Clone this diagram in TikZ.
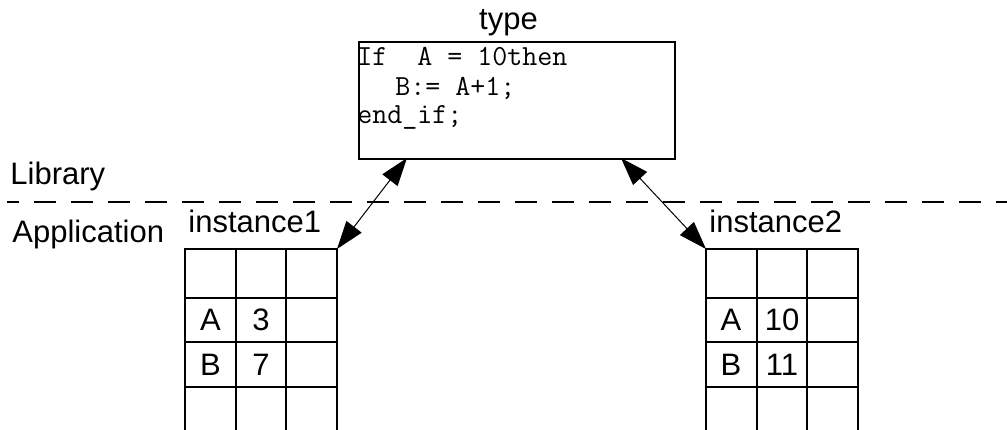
\documentclass[tikz,border=0pt]{standalone}
\usepackage{fontspec}
\setmainfont{Liberation Sans}
\usetikzlibrary{arrows.meta}

\begin{document}
\begin{tikzpicture}[x=0.5pt,y=-0.5pt,
    plaintext/.style={inner sep=0pt,font=\fontsize{15.5}{18}\selectfont},
    codeline/.style={inner sep=0pt,anchor=base west,font=\fontsize{14.57}{14.5}\ttfamily},
    gridline/.style={line width=0.85pt,line cap=rect},
    link/.style={line width=0.5pt,{Triangle[length=14pt,width=9.5pt]}-{Triangle[length=14pt,width=9.5pt]}}]
    \useasboundingbox (0,0) rectangle (1007,429);
    % library / application split
    \coordinate (split west) at (7,201.5);
    \coordinate (split east) at (1007,201.5);
    \draw[line width=1pt,dash pattern=on 11pt off 7.5pt,dash phase=5pt] (split west) -- (split east);
    \node[plaintext,anchor=base west] (lib) at (10,184) {Library};
    \node[plaintext,anchor=base west] (app) at (12,242) {Application};
    % type
    \node[draw,gridline,anchor=north west,inner sep=0pt,minimum width=158pt,minimum height=58.5pt] (typebox) at (358,41) {};
    \node[plaintext,anchor=base] (typename) at (508.5,29) {type};
    \node[codeline] (code1) at (357,65) {If~~A = 10then};
    \node[codeline] (code2) at (395,95) {B:= A+1;};
    \node[codeline] (code3) at (357,123) {end\_if;};
    % instances
    \foreach \gx/\gn in {185/1,706/2} {
      \foreach \cx in {0,50.67,101.33,152}
        \draw[gridline] (\gx+\cx,249) -- (\gx+\cx,432);
      \foreach \ry in {249,298,342,387}
        \draw[gridline] (\gx,\ry) -- (\gx+152,\ry);
      \node[plaintext,anchor=base west] (inst\gn) at (\gx+3,232) {instance\gn};
    }
    \node[plaintext] (a1) at (210.5,320) {A};
    \node[plaintext] (va1) at (261,320) {3};
    \node[plaintext] (b1) at (210.5,364.5) {B};
    \node[plaintext] (vb1) at (261,364.5) {7};
    \node[plaintext] (a2) at (731,320) {A};
    \node[plaintext] (va2) at (782,320) {10};
    \node[plaintext] (b2) at (731,364.5) {B};
    \node[plaintext] (vb2) at (782,364.5) {11};
    % links
    \coordinate (corner1) at (337,249);
    \coordinate (corner2) at (706,249);
    \coordinate (tip1) at (407,158);
    \coordinate (tip2) at (621,158);
    \draw[link] (corner1) -- (tip1);
    \draw[link] (tip2) -- (corner2);
\end{tikzpicture}
\end{document}
